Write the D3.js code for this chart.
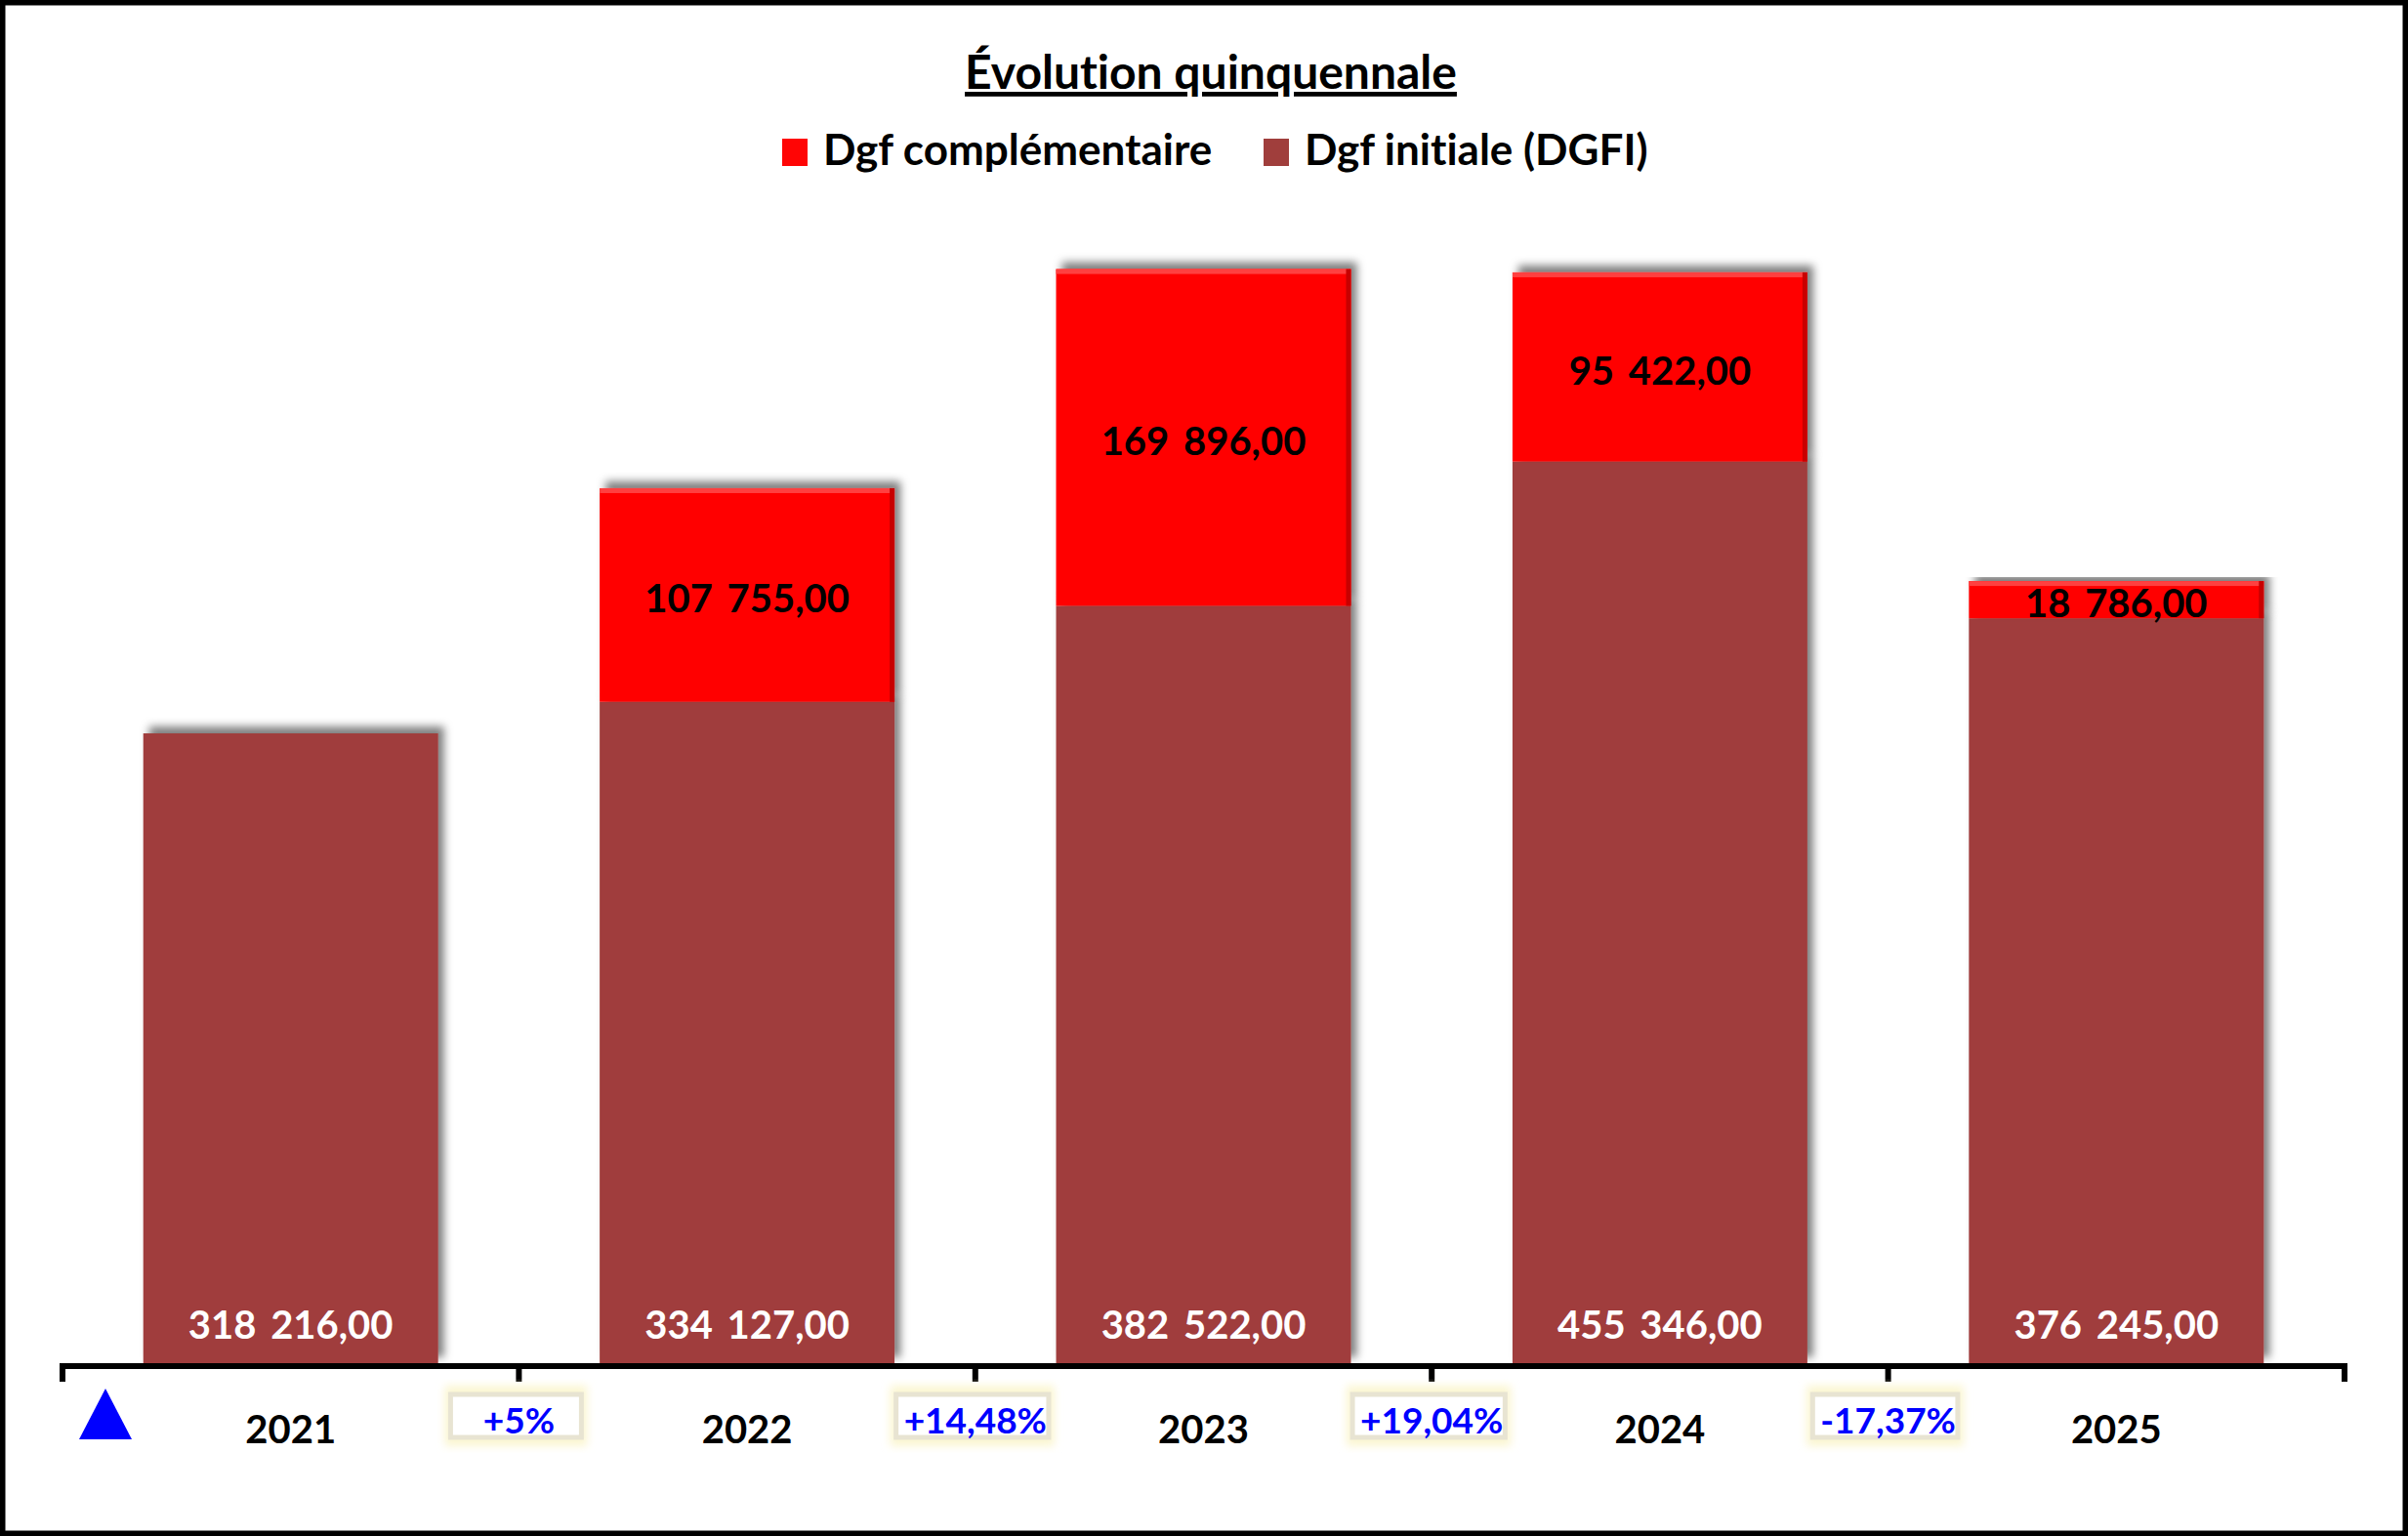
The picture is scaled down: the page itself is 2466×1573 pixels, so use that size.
<!DOCTYPE html>
<html>
<head>
<meta charset="utf-8">
<script src="https://cdn.jsdelivr.net/npm/d3@7/dist/d3.min.js"></script>
<style>
  body { margin: 0; background: #fff; }
  text { font-family: Lato, "Open Sans", sans-serif; font-weight: bold; font-variant-ligatures: none; }
</style>
</head>
<body>
<div id="chart"></div>
<script>
// values
const years = ["2021", "2022", "2023", "2024", "2025"];
const initiale = [318216, 334127, 382522, 455346, 376245];
const complementaire = [0, 107755, 169896, 95422, 18786];
const variations = ["+5%", "+14,48%", "+19,04%", "-17,37%"];
const seriesNames = ["Dgf complémentaire", "Dgf initiale (DGFI)"];

const W = 2466, H = 1573;
const red = "#ff0505", brown = "#a03e3c";

const svg = d3.select("#chart").append("svg")
  .attr("width", W)
  .attr("height", H);

const defs = svg.append("defs");
defs.append("filter").attr("id", "shadow")
  .attr("x", "-10%").attr("y", "-10%").attr("width", "130%").attr("height", "130%")
  .append("feDropShadow")
    .attr("dx", 6).attr("dy", -7)
    .attr("stdDeviation", 4)
    .attr("flood-color", "#000")
    .attr("flood-opacity", 0.5);
defs.append("filter").attr("id", "glow")
  .append("feGaussianBlur").attr("stdDeviation", 4);

// frame
svg.append("rect")
  .attr("x", 0).attr("y", 0).attr("width", W).attr("height", H)
  .attr("fill", "#fff").attr("stroke", "#000").attr("stroke-width", 11);

const axisY = 1397;
const x = d3.scaleBand()
  .domain(years)
  .range([64, 2401])
  .paddingInner(0.354)
  .paddingOuter(0.177);

// about 0.00203 px per unit, measured from the bars
const y = d3.scaleLinear()
  .domain([0, 600000])
  .range([axisY, axisY - 600000 * 0.00203]);

const rows = years.map((yr, i) => ({ yr, a: initiale[i], b: complementaire[i] }));

// bars: initial first, complementary on top
const bars = svg.append("g");
bars.selectAll("rect.ini")
  .data(rows)
  .enter().append("rect")
    .attr("class", "ini")
    .attr("x", d => x(d.yr))
    .attr("y", d => y(d.a))
    .attr("width", x.bandwidth())
    .attr("height", d => y(0) - y(d.a))
    .attr("fill", brown)
    .attr("filter", "url(#shadow)");

const comp = rows.filter(d => d.b > 0);
bars.selectAll("rect.comp")
  .data(comp)
  .enter().append("rect")
    .attr("class", "comp")
    .attr("x", d => x(d.yr))
    .attr("y", d => y(d.a + d.b))
    .attr("width", x.bandwidth())
    .attr("height", d => y(d.a) - y(d.a + d.b))
    .attr("fill", red)
    .attr("filter", "url(#shadow)");

// little bevel on the red blocks
bars.selectAll("rect.hi")
  .data(comp)
  .enter().append("rect")
    .attr("x", d => x(d.yr))
    .attr("y", d => y(d.a + d.b))
    .attr("width", x.bandwidth())
    .attr("height", d => Math.min(5, y(d.a) - y(d.a + d.b)))
    .attr("fill", "#ff4040");
bars.selectAll("rect.dk")
  .data(comp)
  .enter().append("rect")
    .attr("x", d => x(d.yr) + x.bandwidth() - 5)
    .attr("y", d => y(d.a + d.b))
    .attr("width", 5)
    .attr("height", d => y(d.a) - y(d.a + d.b))
    .attr("fill", "#c80000");

const fmt = v => d3.format(",.2f")(v).replace(",", "\u00a0\u2009").replace(".", ",");

// labels
svg.append("g").selectAll("text")
  .data(rows)
  .enter().append("text")
    .attr("x", d => x(d.yr) + x.bandwidth() / 2)
    .attr("y", axisY - 26)
    .attr("text-anchor", "middle")
    .attr("font-size", 40)
    .attr("fill", "#fff")
    .text(d => fmt(d.a));

svg.append("g").selectAll("text")
  .data(comp)
  .enter().append("text")
    .attr("x", d => x(d.yr) + x.bandwidth() / 2)
    .attr("y", d => (y(d.a) + y(d.a + d.b)) / 2 + 4)
    .attr("dy", "0.35em")
    .attr("text-anchor", "middle")
    .attr("font-size", 40)
    .attr("fill", "#000")
    .text(d => fmt(d.b));

// axis line with ticks at the band boundaries
const bounds = d3.range(years.length + 1).map(i => x.range()[0] + i * x.step());
const axis = svg.append("g");
axis.append("line")
  .attr("x1", bounds[0] - 3).attr("x2", bounds[bounds.length - 1] + 3)
  .attr("y1", axisY + 2).attr("y2", axisY + 2)
  .attr("stroke", "#000").attr("stroke-width", 6);
axis.selectAll("line.tick")
  .data(bounds)
  .enter().append("line")
    .attr("x1", d => d).attr("x2", d => d)
    .attr("y1", axisY).attr("y2", axisY + 18)
    .attr("stroke", "#000").attr("stroke-width", 6);
axis.selectAll("text")
  .data(years)
  .enter().append("text")
    .attr("x", d => x(d) + x.bandwidth() / 2)
    .attr("y", 1478)
    .attr("text-anchor", "middle")
    .attr("font-size", 40)
    .attr("fill", "#000")
    .text(d => d);

// variation boxes between the years
const vb = svg.append("g").selectAll("g")
  .data(variations)
  .enter().append("g")
    .attr("transform", (d, i) => `translate(${bounds[i + 1]},0)`);
const vt = vb.append("text")
  .attr("x", 0)
  .attr("y", 1468)
  .attr("text-anchor", "middle")
  .attr("font-size", 37)
  .attr("fill", "#0000ff")
  .text(d => d);
vt.each(function() {
  const w = Math.max(this.getBBox().width + 10, 134);
  const g = d3.select(this.parentNode);
  g.insert("rect", "text")
    .attr("x", -w / 2 - 9).attr("y", 1419)
    .attr("width", w + 12).attr("height", 62)
    .attr("fill", "#fbf6d2").attr("filter", "url(#glow)");
  g.insert("rect", "text")
    .attr("x", -w / 2 - 3).attr("y", 1428)
    .attr("width", w).attr("height", 44)
    .attr("fill", "#fff")
    .attr("stroke", "#e8e4d2").attr("stroke-width", 5);
});

// blue triangle
svg.append("path")
  .attr("d", "M108,1422 L135,1474 L81,1474 Z")
  .attr("fill", "#0000ff");

// title
svg.append("text")
  .attr("x", 1240).attr("y", 91)
  .attr("text-anchor", "middle")
  .attr("font-size", 48)
  .attr("text-decoration", "underline")
  .text("Évolution quinquennale");

// legend
const legend = svg.append("g");
const legX = [801, 1294];
const legColors = [red, brown];
seriesNames.forEach((name, i) => {
  legend.append("rect")
    .attr("x", legX[i]).attr("y", 142)
    .attr("width", 26).attr("height", 28)
    .attr("fill", legColors[i]);
  legend.append("text")
    .attr("x", legX[i] + 42).attr("y", 169)
    .attr("font-size", 44)
    .text(name);
});
</script>
</body>
</html>
